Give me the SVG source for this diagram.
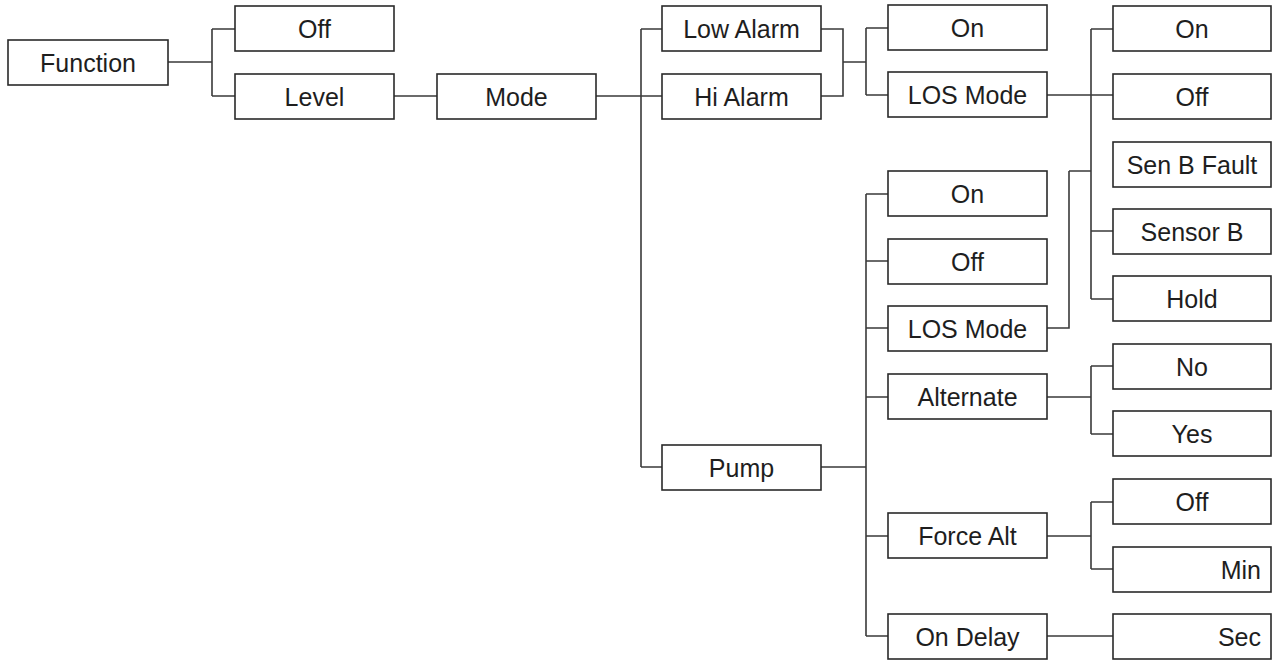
<svg xmlns="http://www.w3.org/2000/svg" width="1276" height="660" viewBox="0 0 1276 660">
<style>
.b rect{fill:#fff;stroke:#2a2a2a;stroke-width:1.6}
.b text{font-family:"Liberation Sans",Arial,sans-serif;font-size:25px;fill:#1e1e1e;text-anchor:middle}
.b text.r{text-anchor:end}
#connectors path{fill:none;stroke:#3a3a3a;stroke-width:1.6}
</style>
<g id="connectors">
<path d="M168,62 H212 M212,29 V96 M212,29 H235 M212,96 H235"/>
<path d="M394,96 H437"/>
<path d="M596,96 H662 M641,29 V467 M641,29 H662 M641,467 H662"/>
<path d="M821,29 H843 V96 H821 M843,62 H866 M866,28 V95 M866,28 H888 M866,95 H888"/>
<path d="M1047,95 H1113 M1091,29 V299 M1091,29 H1113 M1091,231 H1113 M1091,299 H1113"/>
<path d="M1069,171 H1091 M1069,171 V328 H1047"/>
<path d="M821,467 H866 M866,194 V636 M866,194 H888 M866,261 H888 M866,328 H888 M866,397 H888 M866,536 H888 M866,636 H888"/>
<path d="M1047,397 H1091 M1091,366 V434 M1091,366 H1113 M1091,434 H1113"/>
<path d="M1047,536 H1091 M1091,502 V569 M1091,502 H1113 M1091,569 H1113"/>
<path d="M1047,636 H1113"/>
</g>
<g id="n-function" class="b"><rect x="8" y="40" width="160" height="45"/><text x="88" y="71.5">Function</text></g>
<g id="n-off1" class="b"><rect x="235" y="6" width="159" height="45"/><text x="314.5" y="37.5">Off</text></g>
<g id="n-level" class="b"><rect x="235" y="74" width="159" height="45"/><text x="314.5" y="105.5">Level</text></g>
<g id="n-mode" class="b"><rect x="437" y="74" width="159" height="45"/><text x="516.5" y="105.5">Mode</text></g>
<g id="n-lowalarm" class="b"><rect x="662" y="6" width="159" height="45"/><text x="741.5" y="37.5">Low Alarm</text></g>
<g id="n-hialarm" class="b"><rect x="662" y="74" width="159" height="45"/><text x="741.5" y="105.5">Hi Alarm</text></g>
<g id="n-pump" class="b"><rect x="662" y="445" width="159" height="45"/><text x="741.5" y="476.5">Pump</text></g>
<g id="n-alarm-on" class="b"><rect x="888" y="5" width="159" height="45"/><text x="967.5" y="36.5">On</text></g>
<g id="n-alarm-los" class="b"><rect x="888" y="72" width="159" height="45"/><text x="967.5" y="103.5">LOS Mode</text></g>
<g id="n-pump-on" class="b"><rect x="888" y="171" width="159" height="45"/><text x="967.5" y="202.5">On</text></g>
<g id="n-pump-off" class="b"><rect x="888" y="239" width="159" height="45"/><text x="967.5" y="270.5">Off</text></g>
<g id="n-pump-los" class="b"><rect x="888" y="306" width="159" height="45"/><text x="967.5" y="337.5">LOS Mode</text></g>
<g id="n-alternate" class="b"><rect x="888" y="374" width="159" height="45"/><text x="967.5" y="405.5">Alternate</text></g>
<g id="n-forcealt" class="b"><rect x="888" y="513" width="159" height="45"/><text x="967.5" y="544.5">Force Alt</text></g>
<g id="n-ondelay" class="b"><rect x="888" y="614" width="159" height="45"/><text x="967.5" y="645.5">On Delay</text></g>
<g id="n-los-on" class="b"><rect x="1113" y="6" width="158" height="45"/><text x="1192" y="37.5">On</text></g>
<g id="n-los-off" class="b"><rect x="1113" y="74" width="158" height="45"/><text x="1192" y="105.5">Off</text></g>
<g id="n-senbfault" class="b"><rect x="1113" y="142" width="158" height="45"/><text x="1192" y="173.5">Sen B Fault</text></g>
<g id="n-sensorb" class="b"><rect x="1113" y="209" width="158" height="45"/><text x="1192" y="240.5">Sensor B</text></g>
<g id="n-hold" class="b"><rect x="1113" y="276" width="158" height="45"/><text x="1192" y="307.5">Hold</text></g>
<g id="n-no" class="b"><rect x="1113" y="344" width="158" height="45"/><text x="1192" y="375.5">No</text></g>
<g id="n-yes" class="b"><rect x="1113" y="411" width="158" height="45"/><text x="1192" y="442.5">Yes</text></g>
<g id="n-fa-off" class="b"><rect x="1113" y="479" width="158" height="45"/><text x="1192" y="510.5">Off</text></g>
<g id="n-min" class="b"><rect x="1113" y="547" width="158" height="45"/><text class="r" x="1261" y="578.5">Min</text></g>
<g id="n-sec" class="b"><rect x="1113" y="614" width="158" height="45"/><text class="r" x="1261" y="645.5">Sec</text></g>
</svg>
